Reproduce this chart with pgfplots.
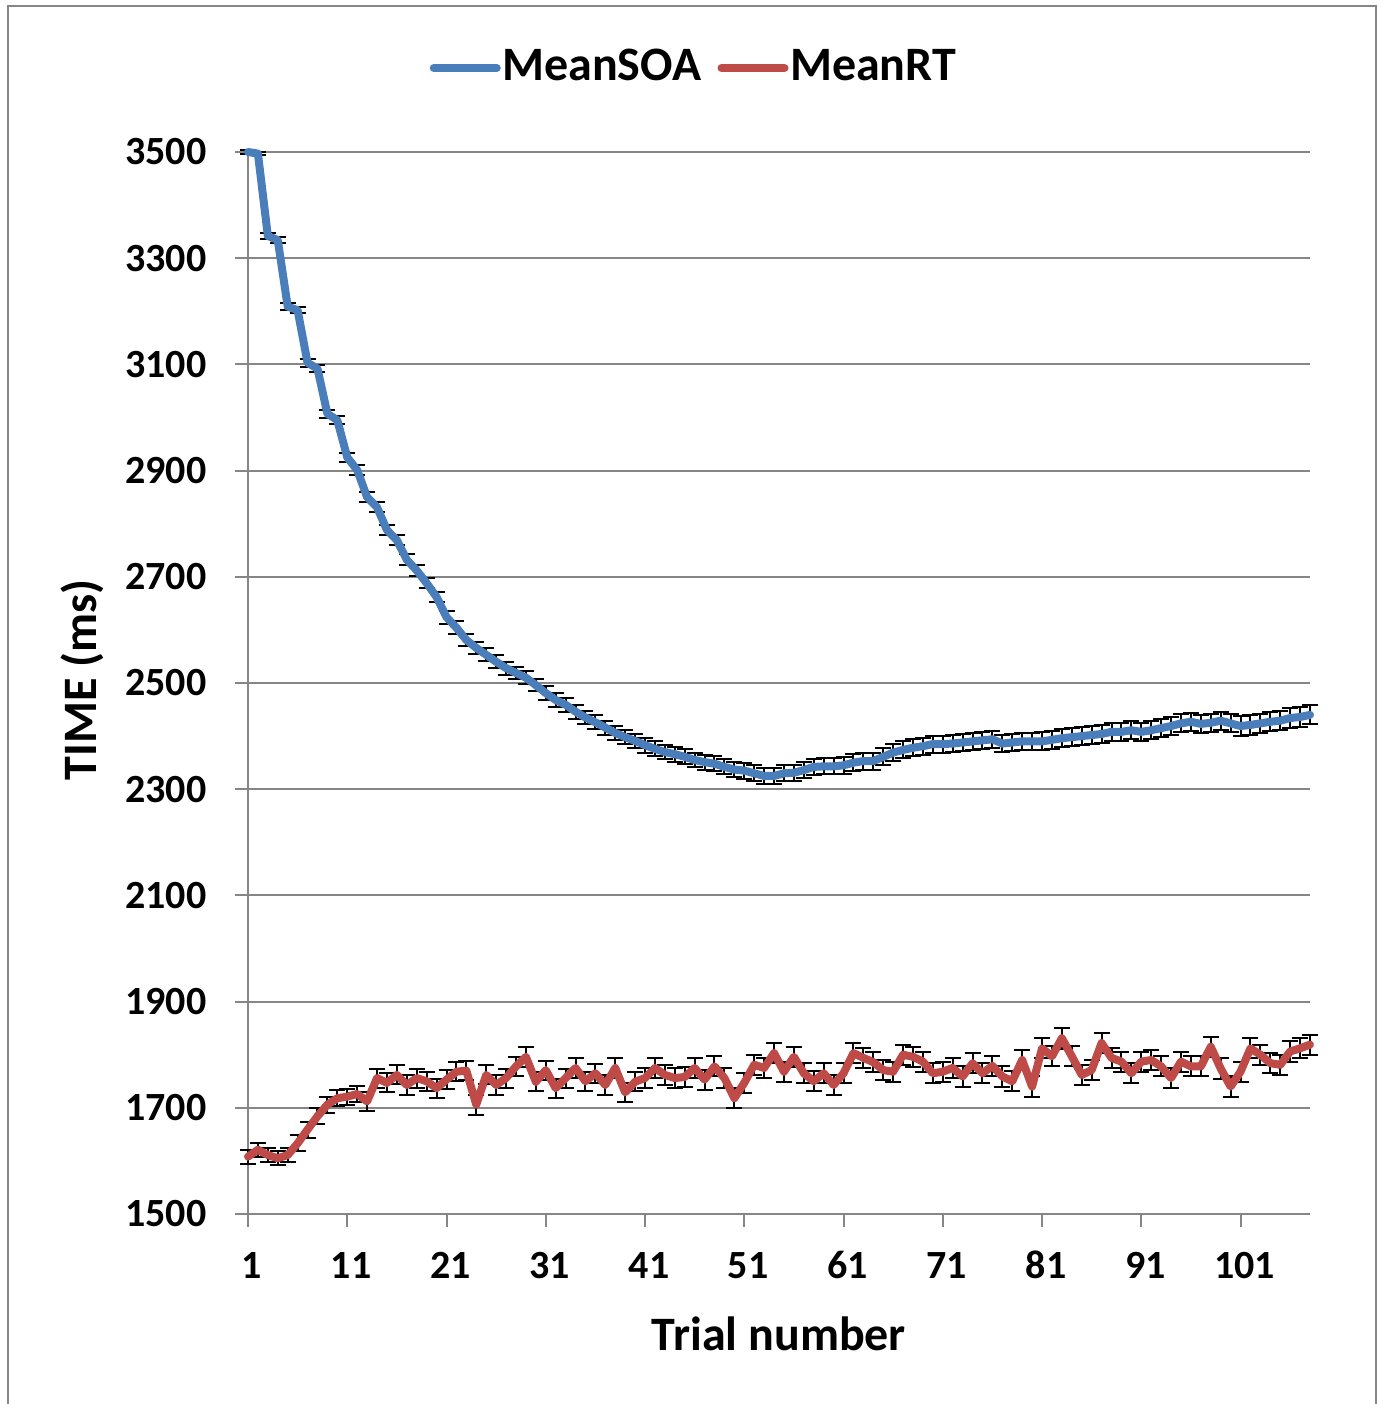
\documentclass[border=0pt]{standalone}
\usepackage{fontspec}
\setmainfont{Carlito}
\usepackage{pgfplots}
\usepackage{pgfplotstable}
\pgfplotsset{compat=1.18}
\definecolor{soablue}{HTML}{4A7EBB}
\definecolor{rtred}{HTML}{BE4B48}
\definecolor{axgray}{HTML}{868686}

% trial, mean, error
\pgfplotstableread{
t y e
1 3500 3
2 3497 3
3 3342 5
4 3334 5
5 3209 6
6 3202 6
7 3103 7
8 3092 7
9 3007 8
10 2995 8
11 2925 9
12 2901 9
13 2850 9
14 2831 9
15 2788 10
16 2769 10
17 2732 10
18 2712 10
19 2688 10
20 2662 10
21 2624 12
22 2604 12
23 2581 12
24 2566 12
25 2553 12
26 2540 12
27 2528 12
28 2519 12
29 2510 12
30 2496 12
31 2481 13
32 2468 13
33 2459 13
34 2446 13
35 2435 13
36 2426 13
37 2416 13
38 2406 13
39 2398 13
40 2391 13
41 2383 14
42 2376 14
43 2370 14
44 2366 14
45 2361 14
46 2355 14
47 2351 14
48 2348 14
49 2342 14
50 2337 14
51 2335 15
52 2330 15
53 2325 15
54 2325 15
55 2330 15
56 2331 15
57 2336 15
58 2342 15
59 2343 15
60 2343 15
61 2345 16
62 2350 16
63 2353 16
64 2353 16
65 2361 16
66 2369 16
67 2374 16
68 2378 16
69 2381 16
70 2385 16
71 2385 16
72 2386 16
73 2388 16
74 2390 16
75 2392 16
76 2394 16
77 2386 16
78 2388 16
79 2390 16
80 2390 16
81 2390 17
82 2393 17
83 2396 17
84 2398 17
85 2400 17
86 2402 17
87 2404 17
88 2408 17
89 2408 17
90 2411 17
91 2408 17
92 2411 17
93 2415 17
94 2419 17
95 2424 17
96 2427 17
97 2423 17
98 2425 17
99 2429 17
100 2424 17
101 2419 18
102 2421 18
103 2424 18
104 2427 18
105 2429 18
106 2434 18
107 2436 18
108 2440 18
}\soa

\pgfplotstableread{
t y e
1 1608 13
2 1621 13
3 1611 13
4 1605 13
5 1611 13
6 1633 15
7 1659 15
8 1684 15
9 1706 15
10 1718 15
11 1721 15
12 1726 15
13 1712 18
14 1756 18
15 1747 18
16 1762 18
17 1743 18
18 1756 18
19 1750 18
20 1737 18
21 1753 18
22 1768 18
23 1770 18
24 1706 19
25 1762 18
26 1743 18
27 1756 18
28 1778 18
29 1796 19
30 1749 18
31 1771 18
32 1737 18
33 1756 18
34 1775 18
35 1750 18
36 1765 18
37 1743 18
38 1775 18
39 1729 18
40 1749 18
41 1756 19
42 1775 19
43 1762 19
44 1756 19
45 1758 19
46 1775 19
47 1753 19
48 1778 19
49 1756 19
50 1718 19
51 1747 19
52 1781 19
53 1775 19
54 1803 19
55 1768 19
56 1796 19
57 1765 19
58 1750 19
59 1765 19
60 1743 19
61 1765 19
62 1803 19
63 1794 19
64 1786 19
65 1771 19
66 1768 19
67 1800 19
68 1796 19
69 1787 19
70 1765 19
71 1768 19
72 1775 19
73 1759 19
74 1784 19
75 1765 19
76 1779 19
77 1759 19
78 1750 19
79 1790 19
80 1740 19
81 1812 19
82 1797 19
83 1831 20
84 1797 19
85 1762 19
86 1771 19
87 1822 19
88 1794 19
89 1787 19
90 1765 19
91 1787 19
92 1790 19
93 1778 19
94 1756 19
95 1787 19
96 1778 19
97 1778 19
98 1815 19
99 1774 19
100 1740 19
101 1768 19
102 1812 19
103 1800 19
104 1784 19
105 1781 19
106 1806 19
107 1812 19
108 1819 19
}\rt

\begin{document}
\begin{tikzpicture}
\path[use as bounding box] (-62pt,-47.5pt) rectangle (283.5pt,303.5pt);
\draw[axgray, line width=0.6pt] (-60pt,-48pt) -- (-60pt,302pt) -- (282pt,302pt) -- (282pt,-48pt);
\begin{axis}[
  anchor=south west, at={(0pt,0pt)},
  scale only axis, width=265.5pt, height=265.5pt,
  xmin=1, xmax=108, ymin=1500, ymax=3500,
  xtick={1,11,...,101}, ytick={1500,1700,...,3500},
  axis x line*=bottom, axis y line*=left,
  axis line style={axgray, line width=0.5pt},
  ymajorgrids, grid style={axgray, line width=0.5pt},
  tick align=outside, major tick length=3.2pt,
  tick style={axgray, line width=0.5pt},
  /pgf/number format/.cd, 1000 sep={}, assume math mode=true, /pgfplots/.cd,
  xticklabel style={font=\bfseries\fontsize{10}{12}\selectfont, anchor=base, inner sep=0pt, yshift=-13pt, xshift=1pt},
  yticklabel style={font=\bfseries\fontsize{10}{12}\selectfont, anchor=east, inner sep=0pt, xshift=-7pt},
  xlabel={Trial number},
  xlabel style={at={(axis description cs:0.5,0)}, anchor=base, yshift=-34pt, font=\bfseries\fontsize{12}{14}\selectfont},
  ylabel={TIME (ms)},
  ylabel style={at={(axis description cs:-0.156,0.503)}, anchor=center, font=\bfseries\fontsize{12}{14}\selectfont},
  clip=false,
  legend columns=2,
  legend image code/.code={\draw[#1, line cap=round] (0pt,0pt) -- (15.75pt,0pt);},
  legend style={at={(0.1704,1.0791)}, anchor=west, draw=none, fill=none, inner sep=0pt,
    font=\bfseries\fontsize{12}{14}\selectfont, nodes={inner ysep=0.6pt, inner xsep=0pt},
    /tikz/every even column/.append style={column sep=4pt},
    /tikz/every odd column/.append style={column sep=0.4pt}},
]
% error bars first, so the lines sit on top of them
\addplot[draw=none, mark=none, forget plot,
  error bars/.cd, y dir=both, y explicit,
  error bar style={draw=black, line width=0.5pt},
  error mark options={draw=black, rotate=90, mark size=2pt, line width=0.5pt}]
  table[x=t, y=y, y error=e] {\soa};
\addplot[draw=none, mark=none, forget plot,
  error bars/.cd, y dir=both, y explicit,
  error bar style={draw=black, line width=0.5pt},
  error mark options={draw=black, rotate=90, mark size=2pt, line width=0.5pt}]
  table[x=t, y=y, y error=e] {\rt};
\addplot[soablue, line width=2pt, line join=round, line cap=round, mark=none] table[x=t, y=y] {\soa};
\addlegendentry{MeanSOA}
\addplot[rtred, line width=2pt, line join=round, line cap=round, mark=none] table[x=t, y=y] {\rt};
\addlegendentry{MeanRT}
\end{axis}
\end{tikzpicture}
\end{document}
